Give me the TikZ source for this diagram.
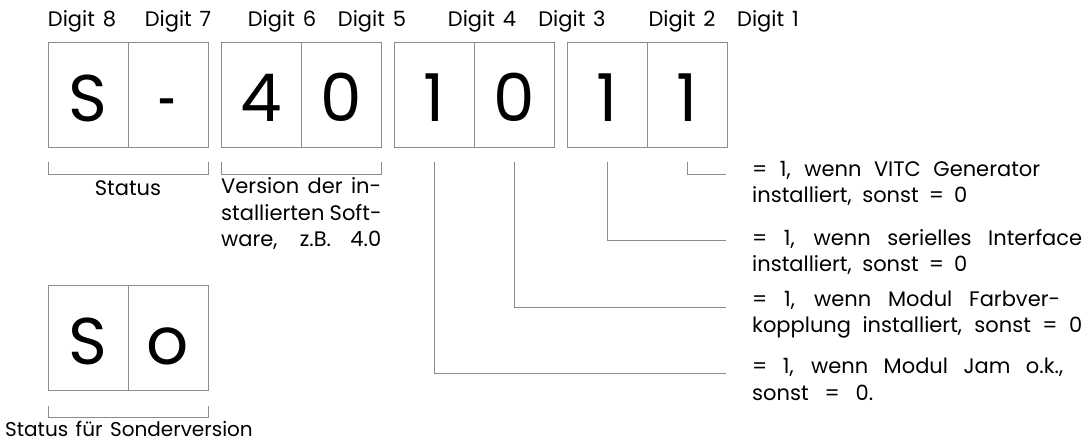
\documentclass[tikz,border=0pt]{standalone}
\usepackage{graphicx}
\usepackage{fontspec}
\setmainfont[WordSpace=1.4]{Poppins}
\usepackage{tikz}
\usetikzlibrary{positioning,calc}

\begin{document}
\begin{tikzpicture}[
    x=1pt, y=-1pt,
    cell/.style={draw=black!45, line width=0.8pt, minimum width=80pt, minimum height=105pt,
      inner sep=0pt, outer sep=0pt, text height=54pt, text depth=0pt,
      font=\fontsize{66}{66}\selectfont},
    digitlabel/.style={anchor=base, inner sep=0pt, font=\fontsize{21}{25.5}\selectfont},
    note/.style={inner sep=0pt, align=left, anchor=base west, font=\fontsize{21}{26.5}\selectfont},
    leader/.style={draw=black!45, line width=0.8pt},
  ]
  \def\gap{13pt}
  \def\bdrop{-15pt}
  \def\blow{-27pt}
  \useasboundingbox (0,0) rectangle (1084,443);

  % ========= CODE FIELDS =========
  \node[cell] (d8) at (88,94.5) {S};
  \node[cell, right=0pt of d8] (d7) {\raisebox{-4pt}{\scalebox{0.5}[1]{-}}};
  \node[cell, right=\gap of d7] (d6) {4};
  \node[cell, right=0pt of d6] (d5) {0};
  \node[cell, right=\gap of d5] (d4) {1};
  \node[cell, right=0pt of d4] (d3) {0};
  \node[cell, right=\gap of d3] (d2) {1};
  \node[cell, right=0pt of d2] (d1) {1};

  % digit numbers
  \foreach \x/\n in {82/8, 178/7, 282/6, 372/5, 482/4, 572/3, 682/2, 768/1}
    \node[digitlabel] (lab\n) at (\x,27) {Digit \n};

  % Brackets
  \draw[leader] ([yshift=\bdrop]d8.south west) |- ([yshift=\blow]d7.south east)
    -- ([yshift=\bdrop]d7.south east);
  \draw[leader] ([yshift=\bdrop]d6.south west) |- ([yshift=\blow]d5.south east)
    -- ([yshift=\bdrop]d5.south east);
  \node[digitlabel] (status) at (128,196) {Status};
  \node[note] (version) at (221,247)
    {\makebox[160pt][s]{Version der in-}\\
     \makebox[160pt][s]{stallierten Soft-}\\
     \makebox[160pt][s]{ware, z.B. 4.0}};

  % ========= BIT MEANINGS =========
  \node[note] (t1) at (752,203)
    {\makebox[288pt][s]{= 1, wenn VITC Generator}\\
     \makebox[215pt][s]{installiert, sonst = 0}};
  \node[note] (t2) at (752,272)
    {\makebox[330pt][s]{= 1, wenn serielles Interface}\\
     \makebox[215pt][s]{installiert, sonst = 0}};
  \node[note] (t3) at (752,333)
    {\makebox[308pt][s]{= 1, wenn Modul Farbver-}\\
     \makebox[330pt][s]{kopplung installiert, sonst = 0}};
  \node[note] (t4) at (752,400)
    {\makebox[311pt][s]{= 1, wenn Modul Jam o.k.,}\\
     \makebox[121pt][s]{sonst = 0.}};

  \coordinate (e1) at (726,174);
  \coordinate (e2) at (726,240);
  \coordinate (e3) at (726,307);
  \coordinate (e4) at (726,373);

  \draw[leader] ([yshift=\bdrop]d1.south) |- (e1);
  \draw[leader] ([yshift=\bdrop]d2.south) |- (e2);
  \draw[leader] ([yshift=\bdrop]d3.south) |- (e3);
  \draw[leader] ([yshift=\bdrop]d4.south) |- (e4);

  % ========= SPECIAL VERSION =========
  \node[cell] (s8) at (88,338) {S};
  \node[cell, right=0pt of s8] (s7) {o};
  \draw[leader] ([yshift=\bdrop]s8.south west) |- ([yshift=\blow]s7.south east)
    -- ([yshift=\bdrop]s7.south east);
  \node[digitlabel, font=\fontsize{20}{24}\selectfont] (special) at (129,436) {Status für Sonderversion};
\end{tikzpicture}
\end{document}
